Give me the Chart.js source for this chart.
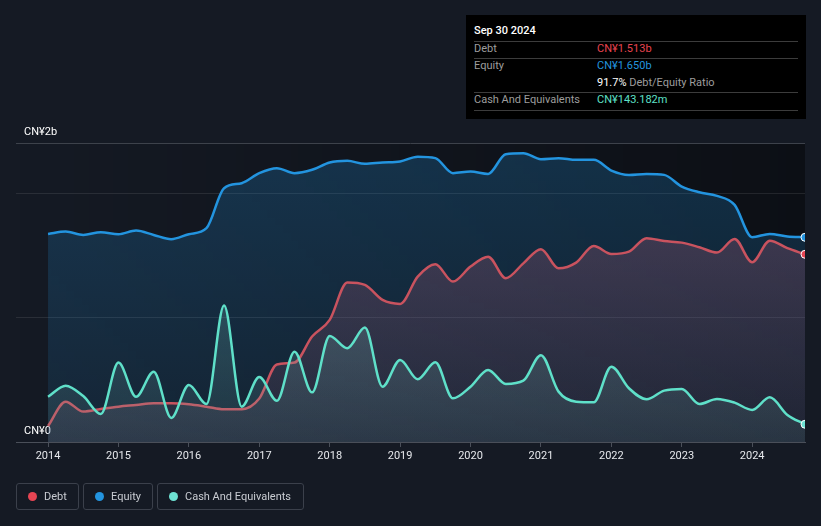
<!DOCTYPE html>
<html>
<head>
<meta charset="utf-8">
<script src="https://cdn.jsdelivr.net/npm/chart.js@4.4.1/dist/chart.umd.min.js"></script>
<style>
  html, body { margin: 0; padding: 0; background: #151a24; }
  body { width: 821px; height: 526px; position: relative; overflow: hidden; font-family: Roboto, "Noto Sans", sans-serif; }
  #c { position: absolute; left: 0; top: 0; }
  .tip { position: absolute; left: 466px; top: 15px; width: 340px; height: 104px; background: #000; color: #fff; font-size: 11px; }
  .tip .title { position: absolute; left: 8px; top: 9px; font-weight: 500; color: #fff; }
  .tip .sep { position: absolute; left: 8px; width: 324px; height: 1px; background: #3c3c3c; }
  .tip .row { position: absolute; left: 8px; width: 324px; height: 14px; line-height: 14px; color: #9d9d9d; }
  .tip .row .v { position: absolute; left: 123px; top: 0; }
  .legend { position: absolute; top: 483px; height: 27px; border: 1px solid #3b404b; border-radius: 3px; box-sizing: border-box; color: #c9ccd2; font-size: 11px; line-height: 25px; }
  .legend .dot { position: absolute; left: 11px; top: 8px; width: 9px; height: 9px; border-radius: 50%; }
  .legend .t { position: absolute; left: 27px; top: 0; white-space: nowrap; }
</style>
</head>
<body>
<canvas id="c" width="821" height="526"></canvas>

<div class="tip">
  <div class="title">Sep 30 2024</div>
  <div class="sep" style="top:26px"></div>
  <div class="row" style="top:27px">Debt<span class="v" style="color:#e8434f">CN¥1.513b</span></div>
  <div class="sep" style="top:43px"></div>
  <div class="row" style="top:44px">Equity<span class="v" style="color:#2394df">CN¥1.650b</span></div>
  <div class="row" style="top:61px"><span class="v" style="color:#9d9d9d"><span style="color:#fff">91.7%</span> Debt/Equity Ratio</span></div>
  <div class="sep" style="top:77px"></div>
  <div class="row" style="top:78px">Cash And Equivalents<span class="v" style="color:#5ee0c8">CN¥143.182m</span></div>
  <div class="sep" style="top:95px"></div>
</div>

<div class="legend" style="left:16px; width:63px;"><span class="dot" style="background:#e64553"></span><span class="t">Debt</span></div>
<div class="legend" style="left:83px; width:70px;"><span class="dot" style="background:#2394df"></span><span class="t">Equity</span></div>
<div class="legend" style="left:157px; width:147px;"><span class="dot" style="background:#6de1d2"></span><span class="t">Cash And Equivalents</span></div>

<script>
// Quarterly periods (decimal year), Q1 2014 .. Q3 2024 (last = Sep 30 2024)
const periods = [
  2014.00, 2014.25, 2014.50, 2014.75, 2015.00, 2015.25, 2015.50, 2015.75,
  2016.00, 2016.25, 2016.50, 2016.75, 2017.00, 2017.25, 2017.50, 2017.75,
  2018.00, 2018.25, 2018.50, 2018.75, 2019.00, 2019.25, 2019.50, 2019.75,
  2020.00, 2020.25, 2020.50, 2020.75, 2021.00, 2021.25, 2021.50, 2021.75,
  2022.00, 2022.25, 2022.50, 2022.75, 2023.00, 2023.25, 2023.50, 2023.75,
  2024.00, 2024.25, 2024.50, 2024.75
];
// Values in CN¥ billions
const debt = [
  0.129, 0.325, 0.245, 0.266, 0.285, 0.298, 0.312, 0.312,
  0.304, 0.285, 0.264, 0.264, 0.350, 0.625, 0.640, 0.850,
  0.984, 1.285, 1.266, 1.145, 1.113, 1.333, 1.433, 1.293,
  1.414, 1.494, 1.320, 1.440, 1.554, 1.400, 1.446, 1.580,
  1.516, 1.535, 1.643, 1.620, 1.607, 1.570, 1.527, 1.637,
  1.449, 1.623, 1.562, 1.513
];
const equity = [
  1.677, 1.696, 1.669, 1.691, 1.675, 1.704, 1.669, 1.635,
  1.675, 1.723, 2.046, 2.086, 2.167, 2.207, 2.167, 2.194,
  2.253, 2.266, 2.242, 2.253, 2.261, 2.300, 2.288, 2.167,
  2.180, 2.161, 2.320, 2.328, 2.280, 2.288, 2.274, 2.274,
  2.188, 2.153, 2.161, 2.153, 2.059, 2.013, 1.984, 1.911,
  1.651, 1.677, 1.656, 1.650
];
const cash = [
  0.365, 0.454, 0.370, 0.226, 0.640, 0.365, 0.567, 0.194,
  0.460, 0.306, 1.100, 0.285, 0.524, 0.333, 0.728, 0.400,
  0.855, 0.756, 0.922, 0.446, 0.661, 0.506, 0.643, 0.352,
  0.446, 0.581, 0.468, 0.494, 0.700, 0.406, 0.325, 0.320,
  0.607, 0.433, 0.344, 0.414, 0.427, 0.306, 0.347, 0.317,
  0.258, 0.360, 0.218, 0.143
];
const yearTicks = [2014, 2015, 2016, 2017, 2018, 2019, 2020, 2021, 2022, 2023, 2024];
const yTickValues = [0, 1, 2];
const yMax = 2.41;
const yLabelTop = 'CN¥2b';
const yLabelZero = 'CN¥0';

const pts = arr => arr.map((v, i) => ({ x: periods[i], y: v }));

function vgrad(ctx, top, bottom) {
  const c = ctx.chart;
  const a = c.chartArea;
  if (!a) return top;
  const g = c.ctx.createLinearGradient(0, a.top, 0, a.bottom);
  g.addColorStop(0, top);
  g.addColorStop(1, bottom);
  return g;
}

const lastOnly = (arr, val) => arr.map((_, i) => i === arr.length - 1 ? val : 0);

const bgPlugin = {
  id: 'plotBg',
  beforeDraw(chart) {
    const { ctx, chartArea: a } = chart;
    const g = ctx.createLinearGradient(a.left, 0, a.right, 0);
    g.addColorStop(0, 'rgba(0,0,0,0)');
    g.addColorStop(1, 'rgba(0,0,0,0.4)');
    ctx.save();
    ctx.fillStyle = g;
    ctx.fillRect(a.left, a.top, a.right - a.left, a.bottom - a.top);
    ctx.restore();
  }
};

new Chart(document.getElementById('c'), {
  type: 'line',
  data: {
    datasets: [
      {
        label: 'Cash And Equivalents',
        data: pts(cash),
        borderColor: '#5fe0c9',
        borderWidth: 2.5,
        fill: 'origin',
        backgroundColor: ctx => vgrad(ctx, 'rgba(110,200,190,0.38)', 'rgba(110,170,170,0.12)'),
        pointRadius: lastOnly(cash, 4),
        pointBackgroundColor: '#6de1d2',
        pointBorderColor: '#ffffff',
        pointBorderWidth: 1,
        cubicInterpolationMode: 'monotone'
      },
      {
        label: 'Debt',
        data: pts(debt),
        borderColor: '#c9535f',
        borderWidth: 2.5,
        fill: 'origin',
        backgroundColor: ctx => vgrad(ctx, 'rgba(190,95,125,0.34)', 'rgba(150,90,120,0.12)'),
        pointRadius: lastOnly(debt, 4),
        pointBackgroundColor: '#e64553',
        pointBorderColor: '#ffffff',
        pointBorderWidth: 1,
        cubicInterpolationMode: 'monotone'
      },
      {
        label: 'Equity',
        data: pts(equity),
        borderColor: '#2394df',
        borderWidth: 2.5,
        fill: 'origin',
        backgroundColor: ctx => vgrad(ctx, 'rgba(35,148,223,0.24)', 'rgba(35,148,223,0.10)'),
        pointRadius: lastOnly(equity, 4),
        pointBackgroundColor: '#2394df',
        pointBorderColor: '#ffffff',
        pointBorderWidth: 1,
        cubicInterpolationMode: 'monotone'
      }
    ]
  },
  options: {
    responsive: false,
    animation: false,
    events: [],
    layout: { padding: { left: 16, right: 16, top: 143, bottom: 60 } },
    plugins: { legend: { display: false }, tooltip: { enabled: false } },
    scales: {
      x: {
        type: 'linear',
        min: 2013.545,
        max: 2024.75,
        afterBuildTicks: s => { s.ticks = yearTicks.map(v => ({ value: v })); },
        afterFit: s => { s.height = 24; },
        ticks: {
          color: '#e6e8ec',
          font: { family: 'Roboto', size: 11 },
          padding: 3,
          maxRotation: 0,
          autoSkip: false,
          callback: v => String(v)
        },
        grid: { drawOnChartArea: false, tickLength: 5, color: '#4a4f59' },
        border: { display: true, color: '#4a4f59', width: 1 }
      },
      y: {
        min: 0,
        max: yMax,
        afterBuildTicks: s => { s.ticks = yTickValues.concat([yMax]).map(v => ({ value: v })); },
        afterFit: s => { s.width = 0; },
        ticks: {
          mirror: true,
          padding: 8,
          labelOffset: -11,
          color: '#ffffff',
          font: { family: 'Roboto', size: 11 },
          callback: v => v === 0 ? yLabelZero : (v === yMax ? yLabelTop : '')
        },
        grid: {
          drawTicks: false,
          color: ctx => ctx.tick && ctx.tick.value === yMax ? '#3d424b' : (ctx.tick && ctx.tick.value === 0 ? 'rgba(0,0,0,0)' : 'rgba(255,255,255,0.09)'),
          lineWidth: 1
        },
        border: { display: false }
      }
    }
  },
  plugins: [bgPlugin]
});
</script>
</body>
</html>
